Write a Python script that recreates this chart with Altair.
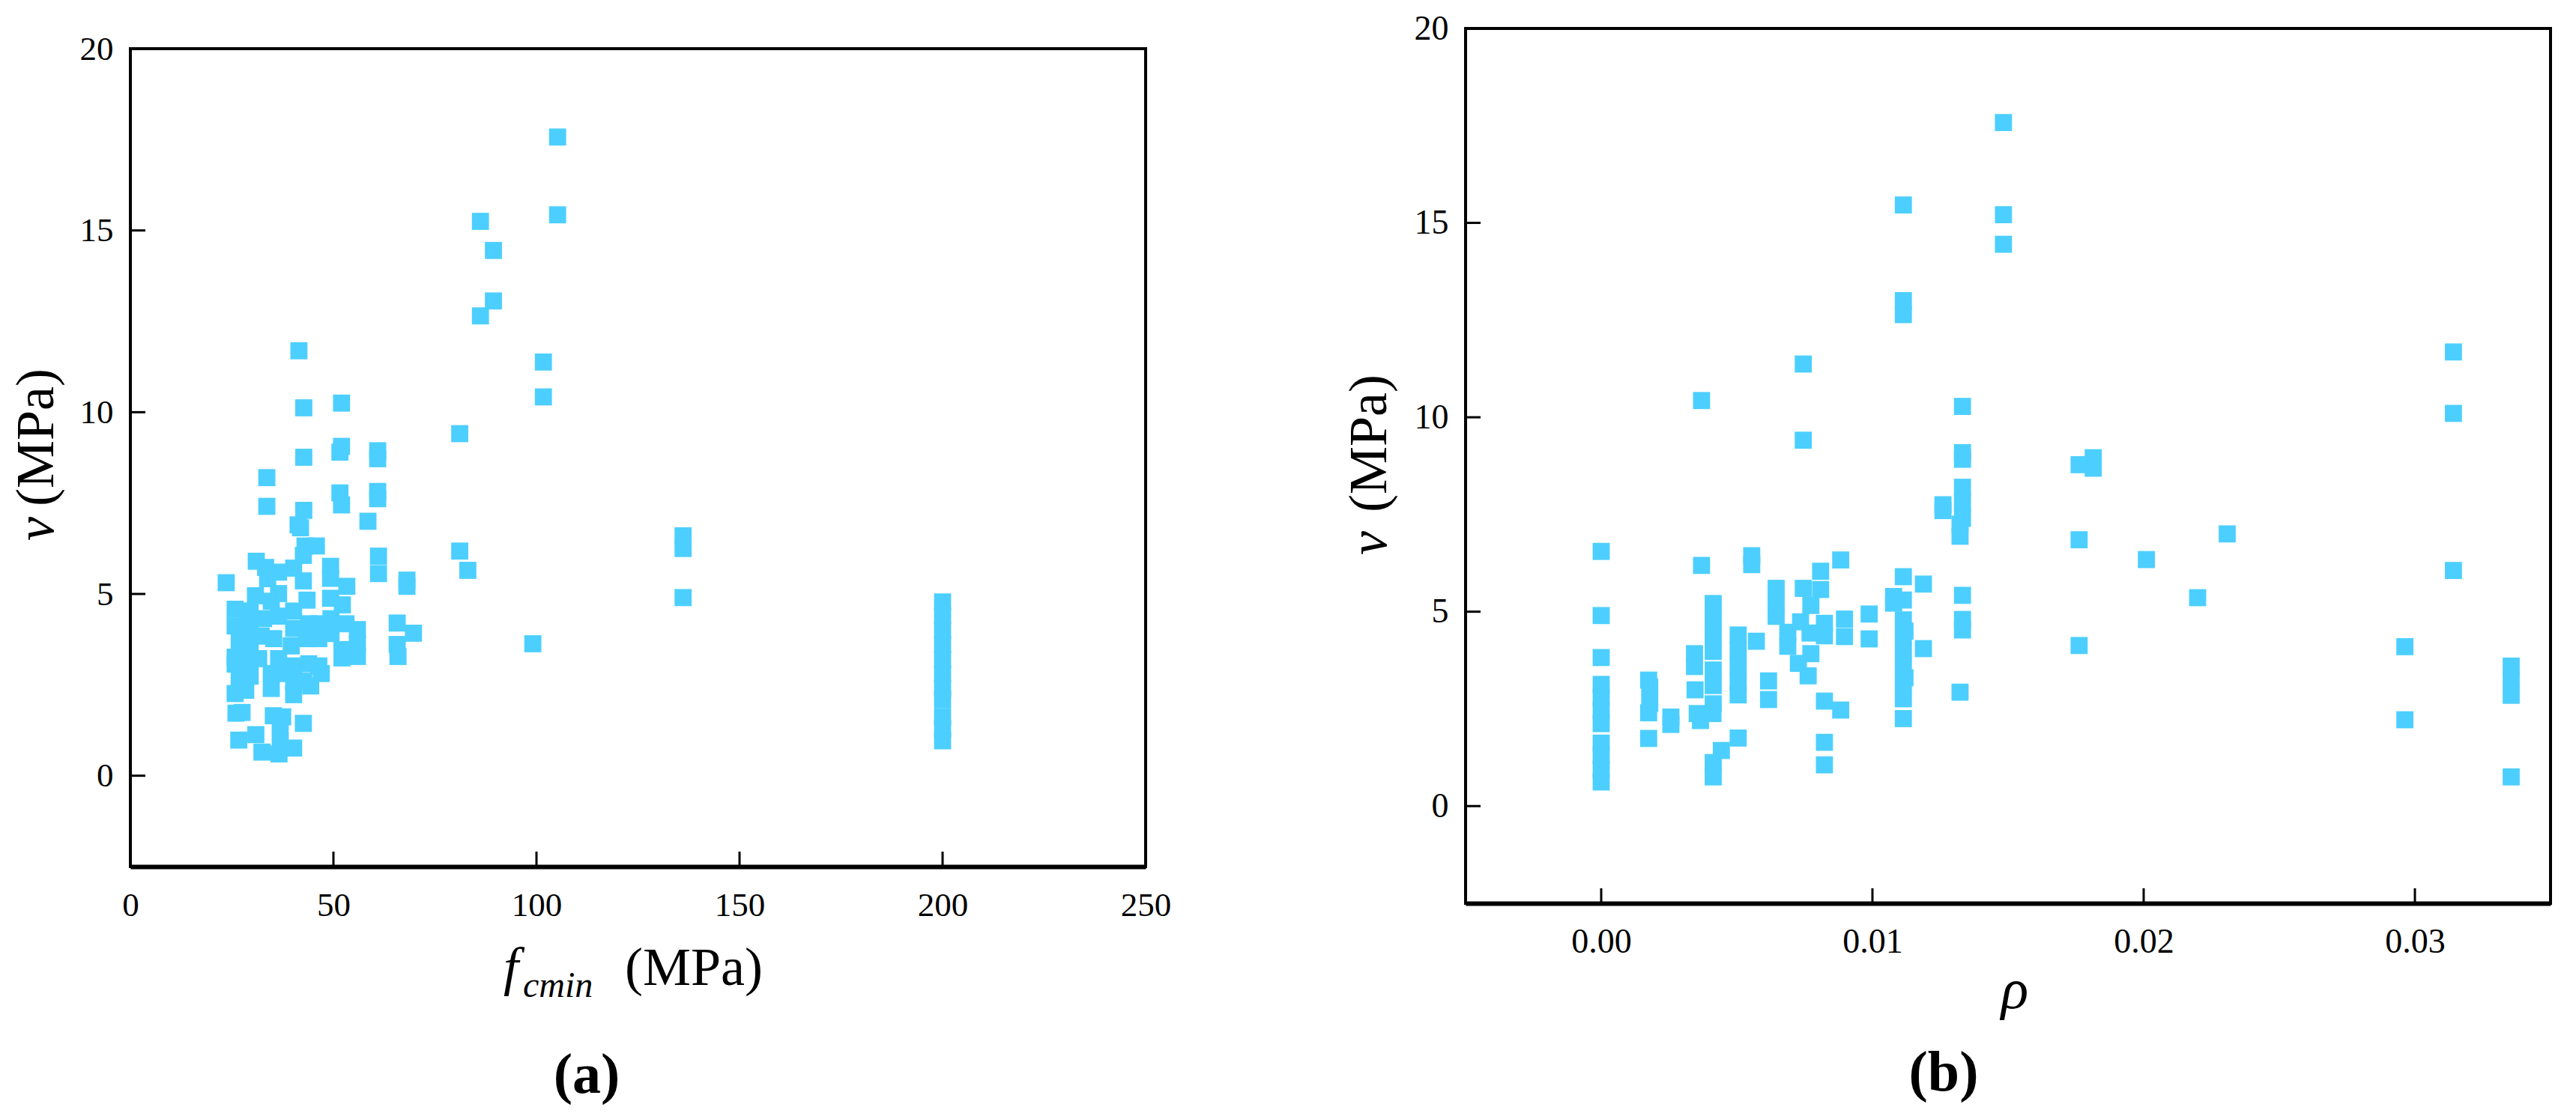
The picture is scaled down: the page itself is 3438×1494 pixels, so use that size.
import altair as alt
import pandas as pd

BLUE = "#4ccfff"
SERIF = "Liberation Serif"

# ---------------- panel (a): v vs f_cmin ----------------
A_OUT_X = [105.2, 105.2, 86.2, 89.4, 89.4, 86.2, 101.7, 101.7, 81.1, 81.1, 83.1, 99.1, 136.1, 136.1, 136.1]
A_OUT_V = [17.57, 15.43, 15.25, 14.45, 13.06, 12.65, 11.38, 10.42, 9.41, 6.18, 5.65, 3.63, 6.6, 6.25, 4.9]

A_200_X = 200
A_200_V = [4.78, 4.4, 4.0, 3.6, 3.2, 2.8, 2.4, 2.1, 1.63, 1.3, 0.96]

A_MID_X = [52.0, 52.0, 51.6, 51.6, 52.0, 60.9, 60.9, 60.9, 60.9, 61.1, 61.1, 58.5, 42.7, 42.7, 41.5,
           42.7, 41.3, 41.9, 33.6, 33.6, 43.0, 45.8, 42.6, 65.7, 65.7, 65.9, 69.7, 68.1, 68.1, 23.6]
A_MID_V = [10.25, 9.06, 8.9, 7.78, 7.45, 8.94, 8.72, 7.82, 7.62, 6.04, 5.56, 7.0, 10.12, 8.76, 11.69,
           7.3, 6.9, 6.82, 8.2, 7.41, 6.32, 6.32, 6.06, 4.2, 3.61, 3.28, 3.92, 5.38, 5.21, 5.31]

A_CL_X = [31.0, 49.3, 49.3, 53.3, 42.6, 40.2, 33.3, 33.8, 36.5, 43.5, 30.8, 55.9, 55.9, 55.9, 52.1,
          52.1, 52.2, 53.1, 49.3, 49.4, 49.4, 46.4, 46.4, 46.4, 44.4, 47.0, 43.9, 43.3, 43.9, 42.7,
          40.2, 40.2, 39.6, 40.2, 40.2, 40.2, 36.5, 36.5, 35.3, 36.5, 37.1, 34.7, 32.8, 32.2, 31.6,
          34.7, 34.7, 29.5, 29.5, 29.5, 29.5, 29.5, 28.4, 25.8, 25.8, 26.8, 25.8, 25.8, 26.8, 25.8,
          26.0, 27.5, 26.7, 30.9, 35.2, 36.9, 42.6, 32.4, 36.6, 40.2, 36.9, 37.5]
A_CL_V = [5.90, 5.76, 5.43, 5.21, 5.36, 5.71, 5.73, 5.42, 5.60, 4.83, 4.95, 4.02, 3.63, 3.28, 3.47,
          3.24, 4.70, 4.18, 4.88, 4.32, 3.91, 3.77, 4.18, 3.02, 2.47, 2.81, 4.18, 3.77, 3.08, 2.60,
          4.53, 4.05, 3.57, 3.02, 2.60, 2.23, 5.01, 4.39, 3.77, 3.22, 2.81, 4.80, 4.32, 3.84, 3.22,
          2.81, 2.40, 4.53, 4.08, 3.63, 3.19, 2.74, 2.35, 4.58, 4.12, 3.67, 3.26, 3.07, 2.72, 2.26,
          1.72, 1.74, 0.98, 1.13, 1.65, 1.34, 1.44, 0.65, 0.60, 0.76, 0.89, 1.62]

# ---------------- panel (b): v vs rho (columns of equal rho) ----------------
B_RHO_COLS = [0.0, 0.00175, 0.00179, 0.00257, 0.0037, 0.00344, 0.00346, 0.00354, 0.00412, 0.00366,
              0.00413, 0.00443, 0.00505, 0.00572, 0.00555, 0.00617, 0.00645, 0.00688, 0.00745, 0.00809,
              0.00773, 0.00735, 0.0077, 0.00727, 0.00763, 0.00823, 0.00883, 0.00897, 0.00988, 0.01078,
              0.01114, 0.0112, 0.01188, 0.01332, 0.01323, 0.0126, 0.01483, 0.01762, 0.01814, 0.0201,
              0.02199, 0.02308, 0.02963, 0.03142, 0.03355]
B_V_COLS = [
    [6.55, 4.9, 3.82, 3.13, 2.8, 2.45, 2.12, 1.62, 1.3, 0.95, 0.62],
    [3.24, 2.40, 1.74],
    [3.06, 2.64],
    [2.29, 2.10],
    [6.19, 10.43],
    [3.92, 3.59],
    [2.99],
    [2.38],
    [2.38],
    [2.20],
    [5.21, 4.79, 4.38, 3.98, 3.5, 3.1, 2.63, 1.12, 0.75],
    [1.43],
    [1.75, 4.4, 4.01, 3.61, 3.2, 2.86],
    [4.24],
    [6.44, 6.21],
    [3.22, 2.74],
    [5.6, 5.2, 4.88],
    [4.47, 4.11],
    [9.41, 5.6, 11.37],
    [6.04, 5.57],
    [5.16, 3.92],
    [4.74],
    [4.45],
    [3.67],
    [3.35],
    [4.38, 4.7, 2.7, 1.64, 1.06],
    [6.33, 2.47],
    [4.81, 4.36],
    [4.94, 4.30],
    [5.39, 5.22],
    [5.9, 5.3, 4.79, 4.38, 3.98, 3.57, 3.17, 2.76, 2.25, 15.46, 13.0, 12.64],
    [4.5, 3.3],
    [5.71, 4.05],
    [9.09, 8.92, 8.2, 7.8, 7.4, 5.42, 4.80, 4.53, 10.28],
    [7.25, 6.94, 2.93],
    [7.75, 7.6],
    [17.58, 15.21, 14.45],
    [8.78, 6.85, 4.13],
    [8.96, 8.69],
    [6.34],
    [5.36],
    [7.0],
    [4.1, 2.22],
    [11.68, 10.10, 6.06],
    [3.6, 3.25, 2.85, 0.75],
]

A_X_TICKS = [0, 50, 100, 150, 200, 250]
B_X_TICKS = [0.0, 0.01, 0.02, 0.03]
Y_TICKS = [0, 5, 10, 15, 20]
A_X_DOMAIN = [0, 250]
B_X_DOMAIN = [-0.005, 0.035]
Y_DOMAIN = [-2.5, 20]

TXT_V = "v"
TXT_MPA = "(MPa)"
TXT_F = "f"
TXT_CMIN = "cmin"
TXT_RHO = "ρ"
TXT_A = "(a)"
TXT_B = "(b)"

TICK_LEN = 20

# ---------------- build tables ----------------
a_x = A_OUT_X + [A_200_X] * len(A_200_V) + A_MID_X + A_CL_X
a_v = A_OUT_V + A_200_V + A_MID_V + A_CL_V
df_a = pd.DataFrame({"x": a_x, "y": a_v})

b_x, b_v = [], []
for r, vs in zip(B_RHO_COLS, B_V_COLS):
    for v in vs:
        b_x.append(r)
        b_v.append(v)
df_b = pd.DataFrame({"x": b_x, "y": b_v})


def txt(s, x, y, size, style="normal", weight="normal", angle=0, align="center", baseline="middle"):
    return alt.Chart(pd.DataFrame({"t": [s]})).mark_text(
        font=SERIF, fontSize=size, fontStyle=style, fontWeight=weight,
        angle=angle, align=align, baseline=baseline, color="black"
    ).encode(x=alt.value(x), y=alt.value(y), text="t:N")


def panel(df, xdom, xticks, xfmt, W, H, label_size, texts):
    xscale = alt.Scale(domain=xdom, nice=False, zero=False)
    yscale = alt.Scale(domain=Y_DOMAIN, nice=False, zero=False)
    xaxis = alt.Axis(values=xticks, format=xfmt, title=None, grid=False, ticks=False, tickSize=0,
                     tickOpacity=0, tickWidth=0, tickColor="transparent",
                     domain=True, domainColor="black", domainWidth=6,
                     labelFont=SERIF, labelFontSize=label_size, labelColor="black",
                     labelPadding=29, labelFlush=False, labelOverlap=False)
    yaxis = alt.Axis(values=Y_TICKS, format="d", title=None, grid=False, ticks=False, tickSize=0,
                     tickOpacity=0, tickWidth=0, tickColor="transparent",
                     domain=False, labelFont=SERIF, labelFontSize=label_size,
                     labelColor="black", labelPadding=23, labelFlush=False, labelOverlap=False)
    pts = alt.Chart(df).mark_square(size=520, color=BLUE, opacity=1, strokeWidth=0).encode(
        x=alt.X("x:Q", scale=xscale, axis=xaxis),
        y=alt.Y("y:Q", scale=yscale, axis=yaxis),
    )
    # inward tick marks from the frame edge, positioned through the panel scales
    xt = alt.Chart(pd.DataFrame({"t": xticks})).mark_rule(color="black", strokeWidth=3).encode(
        x=alt.X("t:Q", scale=xscale, title=None),
        y=alt.value(H), y2=alt.value(H - TICK_LEN),
    )
    yt = alt.Chart(pd.DataFrame({"t": Y_TICKS})).mark_rule(color="black", strokeWidth=3).encode(
        y=alt.Y("t:Q", scale=yscale, title=None),
        x=alt.value(0), x2=alt.value(TICK_LEN),
    )
    return alt.layer(pts, xt, yt, *texts).properties(width=W, height=H)


WA, HA = 1355, 1092
WB, HB = 1448, 1168

texts_a = [
    txt(TXT_V, -125, 641, 72, style="italic", angle=270),
    txt(TXT_MPA, -125, 519, 72, angle=270),
    txt(TXT_F, 498, 1250, 72, style="italic", align="left", baseline="alphabetic"),
    txt(TXT_CMIN, 524, 1266, 48, style="italic", align="left", baseline="alphabetic"),
    txt(TXT_MPA, 660, 1250, 72, align="left", baseline="alphabetic"),
    txt(TXT_A, 609, 1371, 76, weight="bold"),
]
texts_b = [
    txt(TXT_V, -128, 687, 72, style="italic", angle=270),
    txt(TXT_MPA, -128, 554, 72, angle=270),
    txt(TXT_RHO, 733, 1308, 76, style="italic", baseline="alphabetic"),
    txt(TXT_B, 638, 1395, 76, weight="bold"),
]

pa = panel(df_a, A_X_DOMAIN, A_X_TICKS, "d", WA, HA, 45, texts_a)
pb = panel(df_b, B_X_DOMAIN, B_X_TICKS, ".2f", WB, HB, 46, texts_b)

# thin invisible strip above panel (a) so that its frame sits lower than panel (b)'s
spacer = alt.Chart(pd.DataFrame({"s": [0]})).mark_point(opacity=0).encode(
    x=alt.value(0), y=alt.value(0)
).properties(width=WA, height=1, view=alt.ViewBackground(stroke="transparent", strokeWidth=0))

left = alt.vconcat(spacer, pa, spacing=0)

chart = alt.hconcat(left, pb, spacing=225).properties(
    padding={"left": 3, "top": 5, "right": 5, "bottom": 5},
    background="white",
).configure_view(stroke="black", strokeWidth=4)

chart.save("out.html", embed_options={"renderer": "svg", "actions": False})
